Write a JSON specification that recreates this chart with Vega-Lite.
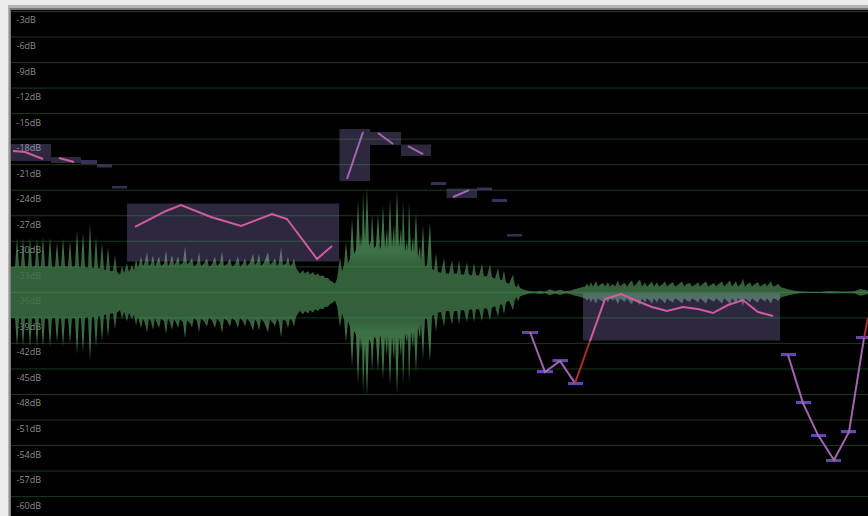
{
"$schema":"https://vega.github.io/schema/vega-lite/v6.json",
"width":868,"height":516,"padding":0,
"autosize":{"type":"fit","contains":"padding"},
"background":"#ececec",
"config":{"view":{"stroke":null,"fill":"#000000"}},
"datasets":{
"wave":[
{"t":11,"db":-33,"db2":-39},{"t":13,"db":-33,"db2":-39},{"t":15,"db":-33,"db2":-39},{"t":17,"db":-29.65,"db2":-42.35},{"t":19,"db":-32.9,"db2":-39.1},{"t":21,"db":-33,"db2":-39},{"t":23,"db":-29.65,"db2":-42.35},{"t":25,"db":-32.9,"db2":-39.1},{"t":28,"db":-33,"db2":-39},{"t":30,"db":-29.54,"db2":-42.46},{"t":32,"db":-33,"db2":-39},{"t":35,"db":-32.9,"db2":-39.1},{"t":37,"db":-29.65,"db2":-42.35},{"t":39,"db":-33,"db2":-39},{"t":41,"db":-32.9,"db2":-39.1},{"t":43,"db":-29.54,"db2":-42.46},{"t":45,"db":-33,"db2":-39},{"t":48,"db":-32.9,"db2":-39.1},{"t":50,"db":-29.54,"db2":-42.46},{"t":52,"db":-33,"db2":-39},{"t":55,"db":-33,"db2":-39},{"t":57,"db":-30.12,"db2":-41.88},{"t":59,"db":-32.9,"db2":-39.1},{"t":61,"db":-33,"db2":-39},{"t":63,"db":-29.65,"db2":-42.35},{"t":65,"db":-32.9,"db2":-39.1},{"t":68,"db":-33,"db2":-39},{"t":70,"db":-29.9,"db2":-42.1},{"t":72,"db":-33,"db2":-39},{"t":75,"db":-32.9,"db2":-39.1},{"t":77,"db":-28.71,"db2":-43.29},{"t":79,"db":-33,"db2":-39},{"t":81,"db":-33,"db2":-39},{"t":83,"db":-28.95,"db2":-43.05},{"t":85,"db":-33,"db2":-39},{"t":88,"db":-33.1,"db2":-38.9},{"t":90,"db":-27.9,"db2":-44.1},{"t":92,"db":-33.1,"db2":-38.9},{"t":94,"db":-33.1,"db2":-38.9},{"t":96,"db":-29.54,"db2":-42.46},{"t":98,"db":-33.1,"db2":-38.9},{"t":100,"db":-33.2,"db2":-38.8},{"t":102,"db":-30.24,"db2":-41.76},{"t":104,"db":-33.3,"db2":-38.7},{"t":106,"db":-33.4,"db2":-38.6},{"t":108,"db":-30.71,"db2":-41.29},{"t":110,"db":-33.5,"db2":-38.5},{"t":113,"db":-33.5,"db2":-38.5},{"t":115,"db":-31.65,"db2":-40.35},{"t":117,"db":-33.6,"db2":-38.4},
{"t":120,"db":-33.9,"db2":-38.1},{"t":122,"db":-32.9,"db2":-39.1},{"t":124,"db":-33.7,"db2":-38.3},{"t":127,"db":-32.6,"db2":-39.4},{"t":129,"db":-33.6,"db2":-38.4},{"t":132,"db":-32.8,"db2":-39.2},{"t":134,"db":-33.4,"db2":-38.6},{"t":136,"db":-32.1,"db2":-39.9},{"t":138,"db":-33.1,"db2":-38.9},{"t":141,"db":-31.8,"db2":-40.2},{"t":143,"db":-32.9,"db2":-39.1},{"t":145,"db":-32.4,"db2":-39.6},{"t":147,"db":-31.3,"db2":-40.7},{"t":149,"db":-32.9,"db2":-39.1},{"t":151,"db":-32.6,"db2":-39.4},{"t":153,"db":-31.6,"db2":-40.4},{"t":155,"db":-33,"db2":-39},{"t":157,"db":-32.4,"db2":-39.6},{"t":159,"db":-31.8,"db2":-40.2},{"t":161,"db":-32.9,"db2":-39.1},{"t":164,"db":-32.6,"db2":-39.4},{"t":166,"db":-31.1,"db2":-40.9},{"t":168,"db":-32.9,"db2":-39.1},{"t":170,"db":-32.5,"db2":-39.5},{"t":172,"db":-31.6,"db2":-40.4},{"t":174,"db":-32.8,"db2":-39.2},{"t":176,"db":-32.5,"db2":-39.5},{"t":178,"db":-31.8,"db2":-40.2},{"t":180,"db":-32.8,"db2":-39.2},{"t":183,"db":-32.5,"db2":-39.5},{"t":185,"db":-30.6,"db2":-41.4},{"t":187,"db":-32.7,"db2":-39.3},{"t":190,"db":-32.4,"db2":-39.6},{"t":192,"db":-31.9,"db2":-40.1},{"t":194,"db":-33,"db2":-39},{"t":197,"db":-32.6,"db2":-39.4},{"t":199,"db":-31.3,"db2":-40.7},{"t":201,"db":-32.9,"db2":-39.1},{"t":204,"db":-32.6,"db2":-39.4},{"t":207,"db":-32,"db2":-40},{"t":209,"db":-33,"db2":-39},{"t":212,"db":-32.7,"db2":-39.3},{"t":215,"db":-31.8,"db2":-40.2},{"t":217,"db":-32.9,"db2":-39.1},{"t":220,"db":-32.5,"db2":-39.5},{"t":222,"db":-31.2,"db2":-40.8},{"t":224,"db":-32.9,"db2":-39.1},{"t":227,"db":-32.7,"db2":-39.3},{"t":230,"db":-32,"db2":-40},{"t":232,"db":-33,"db2":-39},{"t":235,"db":-32.7,"db2":-39.3},{"t":238,"db":-31.8,"db2":-40.2},{"t":240,"db":-33,"db2":-39},{"t":243,"db":-32.6,"db2":-39.4},{"t":245,"db":-32,"db2":-40},{"t":247,"db":-32.9,"db2":-39.1},{"t":250,"db":-32.5,"db2":-39.5},{"t":253,"db":-31.5,"db2":-40.5},{"t":255,"db":-32.8,"db2":-39.2},{"t":257,"db":-32.5,"db2":-39.5},{"t":259,"db":-31.5,"db2":-40.5},{"t":261,"db":-32.9,"db2":-39.1},{"t":264,"db":-32.5,"db2":-39.5},{"t":268,"db":-31.3,"db2":-40.7},{"t":270,"db":-32.8,"db2":-39.2},{"t":273,"db":-32.4,"db2":-39.6},{"t":275,"db":-32,"db2":-40},{"t":277,"db":-32.9,"db2":-39.1},{"t":279,"db":-32.5,"db2":-39.5},{"t":281,"db":-30.7,"db2":-41.3},{"t":283,"db":-32.8,"db2":-39.2},{"t":286,"db":-32.6,"db2":-39.4},{"t":288,"db":-31.8,"db2":-40.2},{"t":290,"db":-32.9,"db2":-39.1},{"t":292,"db":-32.7,"db2":-39.3},{"t":294,"db":-32,"db2":-40},{"t":296,"db":-33.1,"db2":-38.9},{"t":298,"db":-33.5,"db2":-38.5},{"t":300,"db":-33.8,"db2":-38.2},{"t":303,"db":-33.4,"db2":-38.6},{"t":305,"db":-33.8,"db2":-38.2},{"t":308,"db":-33.5,"db2":-38.5},{"t":310,"db":-33.9,"db2":-38.1},{"t":313,"db":-33.6,"db2":-38.4},{"t":315,"db":-34,"db2":-38},{"t":318,"db":-33.8,"db2":-38.2},{"t":320,"db":-34.1,"db2":-37.9},{"t":323,"db":-34,"db2":-38},{"t":325,"db":-34.3,"db2":-37.7},{"t":328,"db":-34.3,"db2":-37.7},{"t":330,"db":-34.6,"db2":-37.4},{"t":333,"db":-34.8,"db2":-37.2},{"t":335,"db":-35,"db2":-37},{"t":337,"db":-34.4,"db2":-37.6},
{"t":340,"db":-31.9,"db2":-40.1},{"t":342,"db":-33.5,"db2":-38.5},{"t":344,"db":-32.8,"db2":-39.2},{"t":346,"db":-30.1,"db2":-41.9},{"t":348,"db":-32.6,"db2":-39.4},{"t":350,"db":-32,"db2":-40},{"t":352,"db":-27.3,"db2":-44.7},{"t":354,"db":-31.5,"db2":-40.5},{"t":356,"db":-31,"db2":-41},{"t":358,"db":-25.2,"db2":-46.8},{"t":360,"db":-30.8,"db2":-41.2},{"t":361,"db":-29,"db2":-43},{"t":362,"db":-30.5,"db2":-41.5},{"t":363,"db":-24.2,"db2":-47.8},{"t":365,"db":-30,"db2":-42},{"t":367,"db":-23.8,"db2":-48.2},{"t":369,"db":-30.5,"db2":-41.5},{"t":371,"db":-30,"db2":-42},{"t":372,"db":-26.7,"db2":-45.3},{"t":374,"db":-30.8,"db2":-41.2},{"t":376,"db":-30.5,"db2":-41.5},{"t":378,"db":-26.7,"db2":-45.3},{"t":380,"db":-31,"db2":-41},{"t":381,"db":-30.5,"db2":-41.5},{"t":383,"db":-25.8,"db2":-46.2},{"t":385,"db":-30.8,"db2":-41.2},{"t":387,"db":-28.5,"db2":-43.5},{"t":388,"db":-31,"db2":-41},{"t":390,"db":-25,"db2":-47},{"t":392,"db":-30.8,"db2":-41.2},{"t":394,"db":-28,"db2":-44},{"t":395,"db":-30.8,"db2":-41.2},{"t":397,"db":-24,"db2":-48},{"t":399,"db":-30.8,"db2":-41.2},{"t":401,"db":-28.5,"db2":-43.5},{"t":402,"db":-30.8,"db2":-41.2},{"t":403,"db":-25.2,"db2":-46.8},{"t":405,"db":-31.2,"db2":-40.8},{"t":407,"db":-30,"db2":-42},{"t":408,"db":-31.2,"db2":-40.8},{"t":409,"db":-25.2,"db2":-46.8},{"t":411,"db":-31.4,"db2":-40.6},{"t":413,"db":-29.5,"db2":-42.5},{"t":414,"db":-31.4,"db2":-40.6},{"t":416,"db":-26.6,"db2":-45.4},{"t":418,"db":-32,"db2":-40},{"t":420,"db":-30.5,"db2":-41.5},{"t":421,"db":-32.4,"db2":-39.6},{"t":423,"db":-28.1,"db2":-43.9},{"t":425,"db":-33,"db2":-39},{"t":427,"db":-32.8,"db2":-39.2},{"t":430,"db":-27.8,"db2":-44.2},{"t":432,"db":-33.2,"db2":-38.8},{"t":434,"db":-33.4,"db2":-38.6},
{"t":436,"db":-31.4,"db2":-40.6},{"t":438,"db":-33.6,"db2":-38.4},{"t":441,"db":-33.7,"db2":-38.3},{"t":444,"db":-32,"db2":-40},{"t":446,"db":-33.8,"db2":-38.2},{"t":449,"db":-33.8,"db2":-38.2},{"t":452,"db":-32.2,"db2":-39.8},{"t":454,"db":-33.8,"db2":-38.2},{"t":457,"db":-33.8,"db2":-38.2},{"t":459,"db":-32.2,"db2":-39.8},{"t":461,"db":-33.9,"db2":-38.1},{"t":464,"db":-33.9,"db2":-38.1},{"t":467,"db":-32.5,"db2":-39.5},{"t":469,"db":-33.9,"db2":-38.1},{"t":472,"db":-34,"db2":-38},{"t":474,"db":-32.5,"db2":-39.5},{"t":476,"db":-34,"db2":-38},{"t":479,"db":-34,"db2":-38},{"t":482,"db":-32.6,"db2":-39.4},{"t":484,"db":-34.1,"db2":-37.9},{"t":487,"db":-34.1,"db2":-37.9},{"t":490,"db":-32.7,"db2":-39.3},{"t":492,"db":-34.2,"db2":-37.8},{"t":495,"db":-34.4,"db2":-37.6},{"t":498,"db":-33.1,"db2":-38.9},{"t":500,"db":-34.5,"db2":-37.5},{"t":502,"db":-34.6,"db2":-37.4},{"t":504,"db":-33.4,"db2":-38.6},{"t":506,"db":-34.8,"db2":-37.2},{"t":509,"db":-35,"db2":-37},{"t":513,"db":-33.9,"db2":-38.1},{"t":515,"db":-35.2,"db2":-36.8},{"t":517,"db":-35.4,"db2":-36.6},{"t":518,"db":-34.9,"db2":-37.1},{"t":520,"db":-35.5,"db2":-36.5},{"t":523,"db":-35.65,"db2":-36.35},{"t":526,"db":-35.75,"db2":-36.25},{"t":530,"db":-35.85,"db2":-36.15},{"t":535,"db":-35.9,"db2":-36.1},
{"t":540,"db":-35.8,"db2":-36.2},{"t":545,"db":-35.9,"db2":-36.1},{"t":550,"db":-35.65,"db2":-36.35},{"t":555,"db":-35.85,"db2":-36.15},{"t":560,"db":-35.7,"db2":-36.3},{"t":565,"db":-35.85,"db2":-36.15},{"t":570,"db":-35.8,"db2":-36.2},{"t":575,"db":-35.6,"db2":-36.4},{"t":579,"db":-35.5,"db2":-36.5},{"t":582,"db":-35.4,"db2":-36.6},
{"t":585,"db":-35.3,"db2":-36.7},{"t":587,"db":-35,"db2":-37},{"t":589,"db":-35.3,"db2":-36.7},{"t":591,"db":-34.8,"db2":-37.2},{"t":593,"db":-35.3,"db2":-36.7},{"t":596,"db":-34.7,"db2":-37.3},{"t":598,"db":-35.3,"db2":-36.7},{"t":600,"db":-35.1,"db2":-36.9},{"t":603,"db":-34.9,"db2":-37.1},{"t":605,"db":-35.3,"db2":-36.7},{"t":608,"db":-34.8,"db2":-37.2},{"t":610,"db":-35.3,"db2":-36.7},{"t":613,"db":-35,"db2":-37},{"t":615,"db":-35.3,"db2":-36.7},{"t":618,"db":-34.6,"db2":-37.4},{"t":620,"db":-35.3,"db2":-36.7},{"t":623,"db":-35,"db2":-37},{"t":625,"db":-34.9,"db2":-37.1},{"t":627,"db":-35.3,"db2":-36.7},{"t":630,"db":-34.8,"db2":-37.2},{"t":632,"db":-34.6,"db2":-37.4},{"t":634,"db":-35.3,"db2":-36.7},{"t":637,"db":-34.9,"db2":-37.1},{"t":640,"db":-34.5,"db2":-37.5},{"t":642,"db":-35.3,"db2":-36.7},{"t":645,"db":-34.8,"db2":-37.2},{"t":647,"db":-35.3,"db2":-36.7},{"t":650,"db":-35,"db2":-37},{"t":652,"db":-34.7,"db2":-37.3},{"t":654,"db":-35.3,"db2":-36.7},{"t":657,"db":-34.8,"db2":-37.2},{"t":659,"db":-35.3,"db2":-36.7},{"t":662,"db":-35.1,"db2":-36.9},{"t":665,"db":-34.7,"db2":-37.3},{"t":667,"db":-35.3,"db2":-36.7},{"t":670,"db":-35,"db2":-37},{"t":673,"db":-34.8,"db2":-37.2},{"t":675,"db":-35.3,"db2":-36.7},{"t":678,"db":-35.1,"db2":-36.9},{"t":682,"db":-34.7,"db2":-37.3},{"t":684,"db":-35.3,"db2":-36.7},{"t":687,"db":-35,"db2":-37},{"t":690,"db":-34.9,"db2":-37.1},{"t":692,"db":-35.3,"db2":-36.7},{"t":695,"db":-35.1,"db2":-36.9},{"t":698,"db":-34.8,"db2":-37.2},{"t":700,"db":-35.3,"db2":-36.7},{"t":703,"db":-35,"db2":-37},{"t":706,"db":-34.7,"db2":-37.3},{"t":708,"db":-35.3,"db2":-36.7},{"t":711,"db":-35.1,"db2":-36.9},{"t":714,"db":-34.9,"db2":-37.1},{"t":716,"db":-35.3,"db2":-36.7},{"t":719,"db":-35,"db2":-37},{"t":722,"db":-34.7,"db2":-37.3},{"t":724,"db":-35.3,"db2":-36.7},{"t":727,"db":-35,"db2":-37},{"t":730,"db":-34.6,"db2":-37.4},{"t":732,"db":-35.3,"db2":-36.7},{"t":734,"db":-35,"db2":-37},{"t":736,"db":-34.7,"db2":-37.3},{"t":738,"db":-35.3,"db2":-36.7},{"t":741,"db":-35,"db2":-37},{"t":743,"db":-34.4,"db2":-37.6},{"t":745,"db":-35.3,"db2":-36.7},{"t":748,"db":-35,"db2":-37},{"t":750,"db":-34.8,"db2":-37.2},{"t":752,"db":-35.3,"db2":-36.7},{"t":755,"db":-35,"db2":-37},{"t":758,"db":-34.8,"db2":-37.2},{"t":760,"db":-35.3,"db2":-36.7},{"t":763,"db":-35.1,"db2":-36.9},{"t":765,"db":-34.9,"db2":-37.1},{"t":767,"db":-35.3,"db2":-36.7},{"t":769,"db":-35,"db2":-37},{"t":771,"db":-34.7,"db2":-37.3},{"t":773,"db":-35.3,"db2":-36.7},{"t":776,"db":-35.2,"db2":-36.8},{"t":778,"db":-35,"db2":-37},{"t":781,"db":-35.4,"db2":-36.6},
{"t":784,"db":-35.5,"db2":-36.5},{"t":790,"db":-35.7,"db2":-36.3},{"t":795,"db":-35.8,"db2":-36.2},{"t":800,"db":-35.88,"db2":-36.12},{"t":810,"db":-35.92,"db2":-36.08},{"t":820,"db":-35.92,"db2":-36.08},{"t":830,"db":-35.85,"db2":-36.15},{"t":840,"db":-35.9,"db2":-36.1},{"t":850,"db":-35.9,"db2":-36.1},{"t":855,"db":-35.85,"db2":-36.15},{"t":860,"db":-35.6,"db2":-36.4},{"t":864,"db":-35.7,"db2":-36.3},{"t":868,"db":-35.8,"db2":-36.2}
],
"notes":[
{"t":11,"t2":51,"db":-18.57,"db2":-20.57,"tier":"large"},{"t":51,"t2":81,"db":-20.1,"db2":-20.8,"tier":"large"},{"t":81,"t2":97,"db":-20.45,"db2":-20.92,"tier":"small"},{"t":97,"t2":112,"db":-20.98,"db2":-21.33,"tier":"small"},{"t":112,"t2":127,"db":-23.51,"db2":-23.8,"tier":"small"},{"t":127,"t2":339,"db":-25.56,"db2":-32.38,"tier":"large"},{"t":339.5,"t2":370,"db":-16.81,"db2":-22.92,"tier":"large"},{"t":370,"t2":401,"db":-17.16,"db2":-18.69,"tier":"large"},{"t":401,"t2":431,"db":-18.63,"db2":-19.98,"tier":"large"},{"t":431,"t2":446,"db":-23.04,"db2":-23.39,"tier":"small"},{"t":446.5,"t2":477,"db":-23.8,"db2":-24.92,"tier":"large"},{"t":477,"t2":492,"db":-23.68,"db2":-23.98,"tier":"small"},{"t":492,"t2":507,"db":-25.03,"db2":-25.39,"tier":"small"},{"t":507,"t2":522,"db":-29.15,"db2":-29.44,"tier":"small"},{"t":522,"t2":538,"db":-40.55,"db2":-40.9,"tier":"low"},{"t":537,"t2":553,"db":-45.13,"db2":-45.5,"tier":"low"},{"t":552.5,"t2":568,"db":-43.84,"db2":-44.2,"tier":"low"},{"t":568,"t2":583,"db":-46.54,"db2":-46.9,"tier":"low"},{"t":583,"t2":780,"db":-36.1,"db2":-41.66,"tier":"large"},{"t":781,"t2":796,"db":-43.13,"db2":-43.5,"tier":"low"},{"t":796,"t2":811,"db":-48.77,"db2":-49.14,"tier":"low"},{"t":811,"t2":826,"db":-52.65,"db2":-53,"tier":"low"},{"t":826,"t2":841,"db":-55.59,"db2":-55.95,"tier":"low"},{"t":841,"t2":856,"db":-52.18,"db2":-52.55,"tier":"low"},{"t":856,"t2":868,"db":-41.13,"db2":-41.5,"tier":"low"}
],
"pitch":[
{"t":13,"db":-19.39,"seg":"A","tier":"pink"},{"t":25,"db":-19.51,"seg":"A","tier":"pink"},{"t":43,"db":-20.33,"seg":"A","tier":"pink"},
{"t":59,"db":-20.22,"seg":"B","tier":"pink"},{"t":74,"db":-20.69,"seg":"B","tier":"pink"},
{"t":135,"db":-28.32,"seg":"C","tier":"pink"},{"t":166,"db":-26.44,"seg":"C","tier":"pink"},{"t":181,"db":-25.74,"seg":"C","tier":"pink"},{"t":211,"db":-27.15,"seg":"C","tier":"pink"},{"t":241,"db":-28.21,"seg":"C","tier":"pink"},{"t":272,"db":-26.8,"seg":"C","tier":"pink"},{"t":287,"db":-27.38,"seg":"C","tier":"pink"},{"t":317,"db":-32.08,"seg":"C","tier":"pink"},{"t":332,"db":-30.56,"seg":"C","tier":"pink"},
{"t":347,"db":-22.68,"seg":"D","tier":"mauve"},{"t":363,"db":-17.16,"seg":"D","tier":"mauve"},
{"t":378,"db":-17.28,"seg":"E","tier":"mauve"},{"t":393,"db":-18.57,"seg":"E","tier":"mauve"},
{"t":408,"db":-18.81,"seg":"F","tier":"mauve"},{"t":423,"db":-19.75,"seg":"F","tier":"mauve"},
{"t":453,"db":-24.8,"seg":"G","tier":"mauve"},{"t":469,"db":-23.98,"seg":"G","tier":"mauve"},
{"t":530,"db":-40.66,"seg":"H","tier":"mauve"},{"t":545,"db":-45.36,"seg":"H","tier":"mauve"},{"t":560,"db":-44.07,"seg":"H","tier":"mauve"},{"t":575,"db":-46.66,"seg":"H","tier":"mauve"},
{"t":575,"db":-46.66,"seg":"R","tier":"red"},{"t":590,"db":-41.72,"seg":"R","tier":"red"},
{"t":590,"db":-41.72,"seg":"I","tier":"pink"},{"t":605,"db":-36.79,"seg":"I","tier":"pink"},{"t":621,"db":-36.2,"seg":"I","tier":"pink"},{"t":637,"db":-37.02,"seg":"I","tier":"pink"},{"t":652,"db":-37.72,"seg":"I","tier":"pink"},{"t":667,"db":-38.2,"seg":"I","tier":"pink"},{"t":683,"db":-37.72,"seg":"I","tier":"pink"},{"t":698,"db":-37.96,"seg":"I","tier":"pink"},{"t":713,"db":-38.43,"seg":"I","tier":"pink"},{"t":728,"db":-37.49,"seg":"I","tier":"pink"},{"t":743,"db":-36.9,"seg":"I","tier":"pink"},{"t":758,"db":-38.31,"seg":"I","tier":"pink"},{"t":773,"db":-38.78,"seg":"I","tier":"pink"},
{"t":788,"db":-43.37,"seg":"J","tier":"mauve"},{"t":803,"db":-49.01,"seg":"J","tier":"mauve"},{"t":818,"db":-52.77,"seg":"J","tier":"mauve"},{"t":834,"db":-55.7,"seg":"J","tier":"mauve"},{"t":849,"db":-52.41,"seg":"J","tier":"mauve"},{"t":864,"db":-41.37,"seg":"J","tier":"mauve"},
{"t":864,"db":-41.37,"seg":"K","tier":"red"},{"t":868,"db":-39.02,"seg":"K","tier":"red"}
],
"grid":[
{"t":11,"t2":868,"db":-3},{"t":11,"t2":868,"db":-6},{"t":11,"t2":868,"db":-9},{"t":11,"t2":868,"db":-12},{"t":11,"t2":868,"db":-15},{"t":11,"t2":868,"db":-18},{"t":11,"t2":868,"db":-21},{"t":11,"t2":868,"db":-24},{"t":11,"t2":868,"db":-27},{"t":11,"t2":868,"db":-30},{"t":11,"t2":868,"db":-33},{"t":11,"t2":868,"db":-36},{"t":11,"t2":868,"db":-39},{"t":11,"t2":868,"db":-42},{"t":11,"t2":868,"db":-45},{"t":11,"t2":868,"db":-48},{"t":11,"t2":868,"db":-51},{"t":11,"t2":868,"db":-54},{"t":11,"t2":868,"db":-57},{"t":11,"t2":868,"db":-60}
],
"shadow":[{"t":0,"t2":11,"db":-1.649,"db2":-62.28},{"t":0,"t2":868,"db":-1.649,"db2":-2.83}],
"mid":[{"t":0,"t2":9.5,"db":-1.649,"db2":-62.28},{"t":0,"t2":868,"db":-1.649,"db2":-2.6}],
"page":[{"t":0,"t2":8,"db":-1.649,"db2":-62.28},{"t":0,"t2":868,"db":-1.649,"db2":-2.25}]
},
"encoding":{
"x":{"field":"t","type":"quantitative","title":null,"axis":null,"scale":{"domain":[0,868],"nice":false,"zero":false}},
"y":{"field":"db","type":"quantitative","title":null,"scale":{"domain":[-62.28,-1.649],"nice":false,"zero":false},
"axis":{"values":[-3,-6,-9,-12,-15,-18,-21,-24,-27,-30,-33,-36,-39,-42,-45,-48,-51,-54,-57,-60],"labelExpr":"datum.value + 'dB'","domain":false,"ticks":false,"grid":false,"labelAlign":"left","labelPadding":-16,"labelOffset":8.5,"labelBaseline":"middle","labelColor":"#8c8c8c","labelFont":"Open Sans","labelFontSize":9,"labelOverlap":false,"labelBound":false,"labelFlush":false}}
},
"layer":[
{"data":{"name":"wave"},"mark":{"type":"area","clip":true,"opacity":0.86,"color":{"gradient":"linear","x1":0,"y1":0,"x2":0,"y2":1,"stops":[{"offset":0,"color":"#4a8a55"},{"offset":0.31,"color":"#478350"},{"offset":0.37,"color":"#3c6f44"},{"offset":0.63,"color":"#3c6f44"},{"offset":0.69,"color":"#478350"},{"offset":1,"color":"#4a8a55"}]}},"encoding":{"y2":{"field":"db2"}}},
{"data":{"name":"notes"},"mark":{"type":"rect","clip":true},"encoding":{"x2":{"field":"t2"},"y2":{"field":"db2"},"color":{"field":"tier","type":"nominal","legend":null,"scale":{"domain":["large","small","low"],"range":["rgba(184,160,248,0.25)","rgba(150,125,235,0.38)","#6249ae"]}}}},
{"data":{"name":"grid"},"mark":{"type":"rule","clip":true,"color":"rgba(70,180,90,0.32)","strokeWidth":1},"encoding":{"x2":{"field":"t2"}}},
{"data":{"name":"pitch"},"mark":{"type":"line","clip":true,"strokeWidth":2,"opacity":0.95},"encoding":{"detail":{"field":"seg"},"color":{"field":"tier","type":"nominal","legend":null,"scale":{"domain":["pink","mauve","red"],"range":["#d65fa6","#aa6ab8","#b5322e"]}}}},
{"data":{"name":"shadow"},"mark":{"type":"rect","color":"#787878","clip":true},"encoding":{"x2":{"field":"t2"},"y2":{"field":"db2"}}},
{"data":{"name":"mid"},"mark":{"type":"rect","color":"#b4b4b4","clip":true},"encoding":{"x2":{"field":"t2"},"y2":{"field":"db2"}}},
{"data":{"name":"page"},"mark":{"type":"rect","color":"#ececec","clip":true},"encoding":{"x2":{"field":"t2"},"y2":{"field":"db2"}}}
],
"resolve":{"scale":{"color":"independent"}}
}
